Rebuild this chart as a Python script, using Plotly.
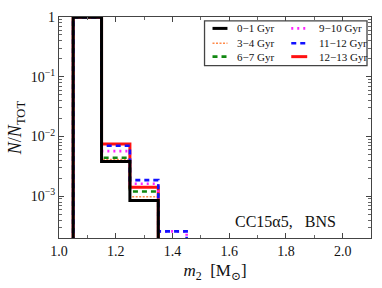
import plotly.graph_objects as go
import math

# ---- data ----
bin_edges = [1.05, 1.15, 1.25, 1.35, 1.45]
series_names = ["0\u22121 Gyr", "3\u22124 Gyr", "6\u22127 Gyr", "9\u221210 Gyr", "11\u221212 Gyr", "12\u221213 Gyr"]
frac_0_1 = [0.99, 3.8e-3, 8.5e-4, 0.0]
frac_3_4 = [0.99, 4.1e-3, 9.8e-4, 0.0]
frac_6_7 = [0.99, 4.4e-3, 1.2e-3, 0.0]
frac_9_10 = [0.99, 5.7e-3, 1.62e-3, 2.58e-4]
frac_11_12 = [0.99, 7.0e-3, 1.86e-3, 2.58e-4]
frac_12_13 = [0.99, 7.5e-3, 1.42e-3, 0.0]
x_tick_vals = [1.0, 1.2, 1.4, 1.6, 1.8, 2.0]
x_tick_text = ["1.0", "1.2", "1.4", "1.6", "1.8", "2.0"]
y_tick_vals = [1, 0.1, 0.01, 0.001]
y_tick_text = ["1", "10<sup>\u22121</sup>", "10<sup>\u22122</sup>", "10<sup>\u22123</sup>"]

series_vals = [frac_0_1, frac_3_4, frac_6_7, frac_9_10, frac_11_12, frac_12_13]
styles = [
    dict(color="#000000", width=3.0, dash="solid"),
    dict(color="#ff8a4a", width=1.6, dash="2px,1.5px"),
    dict(color="#118811", width=2.6, dash="5px,4px"),
    dict(color="#ff22ff", width=2.6, dash="2px,4px"),
    dict(color="#1111ff", width=2.6, dash="5px,4px"),
    dict(color="#ff1111", width=3.0, dash="solid"),
]

W, H = 382, 288
L, R, T, B = 59, 10, 15, 50
PW, PH = W - L - R, H - T - B

def px_x(p):
    return (p - L) / PW

def px_y(p):
    return 1 - (p - T) / PH

FLOOR = 1.2e-4
fig = go.Figure()
draw_order = [5, 1, 2, 3, 4, 0]
for i in draw_order:
    vals = series_vals[i]
    xs = [bin_edges[0]] + list(bin_edges)
    ys = [FLOOR] + [v if v > 0 else FLOOR for v in vals] + [FLOOR]
    fig.add_trace(go.Scatter(x=xs, y=ys, mode="lines", line_shape="hv",
                             line=dict(**styles[i], simplify=False), name=series_names[i],
                             showlegend=False, hoverinfo="skip"))

# ---- manual legend ----
shapes = [dict(type="rect", xref="paper", yref="paper",
               x0=px_x(205), x1=px_x(368), y0=px_y(64), y1=px_y(19),
               line=dict(color="#444444", width=1.3), fillcolor="white", layer="above")]
annotations = []
rows = [26.5, 41.5, 55]
cols = [(213, 228, 236), (292, 308, 318)]
for k in range(6):
    c = cols[k // 3]
    r = rows[k % 3]
    st = styles[k]
    shapes.append(dict(type="line", xref="paper", yref="paper",
                       x0=px_x(c[0]), x1=px_x(c[1]), y0=px_y(r), y1=px_y(r),
                       line=dict(color=st["color"], width=st["width"], dash=st["dash"]),
                       layer="above"))
    annotations.append(dict(xref="paper", yref="paper", x=px_x(c[2]), y=px_y(r),
                            text=series_names[k], showarrow=False, xanchor="left",
                            yanchor="middle", font=dict(size=11, color="#111")))

annotations.append(dict(xref="paper", yref="paper", x=px_x(339), y=px_y(221),
                        text="CC15\u03b15,&nbsp;&nbsp;&nbsp;BNS", showarrow=False,
                        xanchor="right", yanchor="middle",
                        font=dict(size=16, color="#111")))

fig.update_layout(
    width=W, height=H,
    margin=dict(l=L, r=R, t=T, b=B),
    paper_bgcolor="white", plot_bgcolor="white",
    font=dict(family="Liberation Serif, DejaVu Serif, serif", color="#111"),
    shapes=shapes, annotations=annotations,
)
fig.update_xaxes(range=[1.0, 2.1], tickvals=x_tick_vals, ticktext=x_tick_text,
                 ticks="inside", ticklen=5, tickcolor="#444", showgrid=False,
                 showline=True, linecolor="#444", linewidth=1.2, mirror="ticks",
                 tickfont=dict(size=14), zeroline=False,
                 minor=dict(dtick=0.1, tick0=1.0, ticks="inside", ticklen=2.5, tickcolor="#666", showgrid=False),
                 title=dict(text="<i>m</i><sub>2</sub>&nbsp;&nbsp;[M<sub>\u2299</sub>]", font=dict(size=17), standoff=6))
fig.update_yaxes(type="log", range=[math.log10(2.0e-4), 0], tickvals=y_tick_vals, ticktext=y_tick_text,
                 ticks="inside", ticklen=5, tickcolor="#444", showgrid=False,
                 showline=True, linecolor="#444", linewidth=1.2, mirror="ticks",
                 tickfont=dict(size=14), zeroline=False,
                 minor=dict(dtick="D1", ticks="inside", ticklen=2.5, tickcolor="#666", showgrid=False),
                 title=dict(text="<i>N</i>/<i>N</i><sub>TOT</sub>", font=dict(size=18), standoff=4))

fig.write_html("out.html", config={"displayModeBar": False},
               post_script="document.body.style.margin='0';document.body.style.padding='0';")
